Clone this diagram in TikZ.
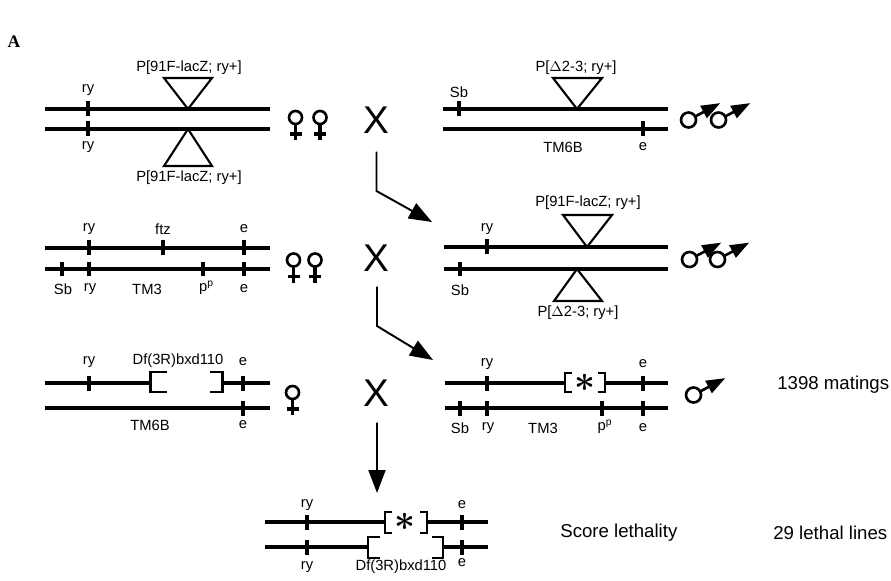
\documentclass[tikz,border=0pt]{standalone}
\usepackage{fontspec}
\setmainfont{Liberation Sans}
\newfontfamily\panelfont{Liberation Serif}
\usepackage{tikz}
\usetikzlibrary{arrows.meta}

\begin{document}
\begin{tikzpicture}[
  line join=miter,
  chrom/.style={black,line width=2pt},
  locus/.style={black,line width=2.4pt},
  insert/.style={black,line width=1.2pt},
  bracket/.style={black,line width=1.3pt},
  gene/.style={font=\fontsize{8.4}{10}\selectfont,inner sep=0pt},
  note/.style={font=\fontsize{10.6}{12}\selectfont,inner sep=0pt,anchor=west},
  crosssign/.style={font=\fontsize{22}{24}\selectfont,inner sep=0pt},
  starnode/.style={font=\fontsize{21}{21}\selectfont\boldmath,inner sep=0pt},
  matearrow/.style={black,line width=1.1pt,-{Triangle[length=0.46cm,width=0.34cm]}},
  sexsym/.style={black,line width=1.5pt},
  female/.pic={
    \draw[sexsym] (0,0) circle (0.13);
    \draw[sexsym,line width=1.8pt] (0,-0.13) -- (0,-0.45) (-0.12,-0.33) -- (0.12,-0.33);
  },
  male/.pic={
    \draw[sexsym] (0,0) circle (0.15);
    \draw[sexsym,-{Triangle[length=0.38cm,width=0.27cm]}] (28:0.15) -- (28:0.72);
  }
]
\path[use as bounding box] (0,0) rectangle (17.82,11.6);

\node[font=\panelfont\bfseries\fontsize{10}{12}\selectfont] (panel) at (0.28,10.76) {A};

% cross 1: females
\draw[chrom] (0.90,9.42) -- (5.40,9.42);
\draw[chrom] (0.90,9.02) -- (5.40,9.02);
\foreach \x/\y in {1.76/9.42,1.76/9.02}
  \draw[locus] (\x,{\y-0.15}) -- (\x,{\y+0.15});
\draw[insert] (3.76,9.42) -- (3.28,10.04) -- (4.24,10.04) -- cycle;
\draw[insert] (3.76,9.02) -- (3.28,8.28) -- (4.24,8.28) -- cycle;
\node[gene] (ryA) at (1.76,9.80) {ry};
\node[gene] (ryB) at (1.76,8.66) {ry};
\node[gene] (lacA) at (3.78,10.24) {P[91F-lacZ; ry+]};
\node[gene] (lacB) at (3.78,8.04) {P[91F-lacZ; ry+]};
\pic at (5.91,9.25) {female};
\pic at (6.40,9.25) {female};
\node[crosssign] (xA) at (7.52,9.20) {X};

% cross 1: males
\draw[chrom] (8.86,9.42) -- (13.36,9.42);
\draw[chrom] (8.86,9.02) -- (13.36,9.02);
\foreach \x/\y in {9.18/9.42,12.86/9.02}
  \draw[locus] (\x,{\y-0.15}) -- (\x,{\y+0.15});
\draw[insert] (11.54,9.42) -- (11.06,10.04) -- (12.04,10.04) -- cycle;
\node[gene] (sbA) at (9.18,9.76) {Sb};
\node[gene] (deltaA) at (11.52,10.24) {P[$\Delta$2-3; ry+]};
\node[gene] (tmA) at (11.26,8.66) {TM6B};
\node[gene] (eA) at (12.86,8.66) {e};
\pic at (13.77,9.20) {male};
\pic at (14.37,9.20) {male};

\coordinate (bendA) at (7.53,7.78);
\coordinate (tipA) at (8.64,7.16);
\draw[matearrow] ([xshift=0.01cm,yshift=-0.36cm]xA.south) -- (bendA) -- (tipA);

% cross 2: females
\draw[chrom] (0.90,6.64) -- (5.40,6.64);
\draw[chrom] (0.90,6.22) -- (5.40,6.22);
\foreach \x/\y in {1.78/6.64,3.26/6.64,4.88/6.64,1.24/6.22,1.78/6.22,4.06/6.22,4.88/6.22}
  \draw[locus] (\x,{\y-0.15}) -- (\x,{\y+0.15});
\node[gene] (ryC) at (1.78,7.02) {ry};
\node[gene] (ftz) at (3.26,7.02) {ftz};
\node[gene] (eC) at (4.88,7.02) {e};
\node[gene] (sbC) at (1.26,5.82) {Sb};
\node[gene] (ryD) at (1.80,5.82) {ry};
\node[gene] (tmC) at (2.94,5.82) {TM3};
\node[gene] (ppC) at (4.13,5.84) {p\textsuperscript{p}};
\node[gene] (eD) at (4.88,5.82) {e};
\pic at (5.87,6.40) {female};
\pic at (6.30,6.40) {female};
\node[crosssign] (xB) at (7.52,6.44) {X};

% cross 2: males
\draw[chrom] (8.88,6.66) -- (13.36,6.66);
\draw[chrom] (8.88,6.22) -- (13.36,6.22);
\foreach \x/\y in {9.74/6.66,9.20/6.22}
  \draw[locus] (\x,{\y-0.15}) -- (\x,{\y+0.15});
\draw[insert] (11.74,6.66) -- (11.26,7.30) -- (12.24,7.30) -- cycle;
\draw[insert] (11.54,6.22) -- (11.08,5.58) -- (12.04,5.58) -- cycle;
\node[gene] (ryE) at (9.74,7.02) {ry};
\node[gene] (sbE) at (9.20,5.80) {Sb};
\node[gene] (lacE) at (11.76,7.54) {P[91F-lacZ; ry+]};
\node[gene] (deltaE) at (11.56,5.34) {P[$\Delta$2-3; ry+]};
\pic at (13.79,6.41) {male};
\pic at (14.35,6.41) {male};

\coordinate (bendB) at (7.54,5.08);
\coordinate (tipB) at (8.66,4.40);
\draw[matearrow] ([xshift=0.02cm,yshift=-0.30cm]xB.south) -- (bendB) -- (tipB);

% cross 3: female
\draw[chrom] (0.90,3.94) -- (3.01,3.94);
\draw[chrom] (4.45,3.94) -- (5.40,3.94);
\draw[bracket] (3.33,4.16) -- (3.01,4.16) -- (3.01,3.76) -- (3.33,3.76);
\draw[bracket] (4.20,4.16) -- (4.45,4.16) -- (4.45,3.76) -- (4.20,3.76);
\draw[chrom] (0.90,3.44) -- (5.40,3.44);
\foreach \x/\y in {1.78/3.94,4.86/3.94,4.86/3.44}
  \draw[locus] (\x,{\y-0.15}) -- (\x,{\y+0.15});
\node[gene] (ryF) at (1.78,4.36) {ry};
\node[gene] (dfF) at (3.56,4.38) {Df(3R)bxd110};
\node[gene] (eF) at (4.86,4.36) {e};
\node[gene] (tmF) at (3.00,3.10) {TM6B};
\node[gene] (eG) at (4.86,3.10) {e};
\pic at (5.85,3.75) {female};
\node[crosssign] (xC) at (7.52,3.74) {X};

% cross 3: male
\draw[chrom] (8.90,3.94) -- (11.30,3.94);
\draw[chrom] (12.10,3.94) -- (13.36,3.94);
\draw[bracket] (11.44,4.14) -- (11.30,4.14) -- (11.30,3.76) -- (11.44,3.76);
\draw[bracket] (11.96,4.14) -- (12.10,4.14) -- (12.10,3.76) -- (11.96,3.76);
\node[starnode] (starH) at (11.70,3.94) {$\ast$};
\draw[chrom] (8.90,3.44) -- (13.36,3.44);
\foreach \x/\y in {9.74/3.94,12.86/3.94,9.20/3.44,9.74/3.44,12.04/3.44,12.86/3.44}
  \draw[locus] (\x,{\y-0.15}) -- (\x,{\y+0.15});
\node[gene] (ryH) at (9.74,4.32) {ry};
\node[gene] (eH) at (12.86,4.32) {e};
\node[gene] (sbH) at (9.20,3.04) {Sb};
\node[gene] (ryI) at (9.76,3.04) {ry};
\node[gene] (tmH) at (10.86,3.04) {TM3};
\node[gene] (ppH) at (12.10,3.06) {p\textsuperscript{p}};
\node[gene] (eI) at (12.86,3.04) {e};
\pic at (13.87,3.70) {male};
\node[note] (matings) at (15.54,3.90) {1398 matings};

\coordinate (tipC) at (7.54,1.74);
\draw[matearrow] ([xshift=0.02cm,yshift=-0.32cm]xC.south) -- (tipC);

% progeny
\draw[chrom] (5.30,1.16) -- (7.70,1.16);
\draw[chrom] (8.54,1.16) -- (9.76,1.16);
\draw[bracket] (7.84,1.36) -- (7.70,1.36) -- (7.70,0.94) -- (7.84,0.94);
\draw[bracket] (8.40,1.36) -- (8.54,1.36) -- (8.54,0.94) -- (8.40,0.94);
\node[starnode] (starJ) at (8.10,1.16) {$\ast$};
\draw[chrom] (5.30,0.66) -- (7.36,0.66);
\draw[chrom] (8.86,0.66) -- (9.76,0.66);
\draw[bracket] (7.60,0.86) -- (7.36,0.86) -- (7.36,0.44) -- (7.60,0.44);
\draw[bracket] (8.64,0.86) -- (8.86,0.86) -- (8.86,0.44) -- (8.64,0.44);
\foreach \x/\y in {6.14/1.16,9.24/1.16,6.14/0.66,9.24/0.66}
  \draw[locus] (\x,{\y-0.15}) -- (\x,{\y+0.15});
\node[gene] (ryJ) at (6.14,1.50) {ry};
\node[gene] (eJ) at (9.24,1.50) {e};
\node[gene] (ryK) at (6.14,0.26) {ry};
\node[gene] (dfK) at (8.02,0.26) {Df(3R)bxd110};
\node[gene] (eK) at (9.24,0.34) {e};
\node[note] (score) at (11.20,0.94) {Score lethality};
\node[note] (lethal) at (15.46,0.94) {29 lethal lines};
\end{tikzpicture}
\end{document}
